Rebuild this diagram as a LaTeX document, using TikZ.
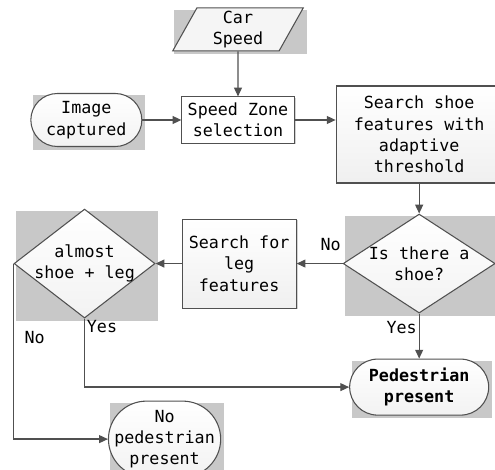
\documentclass[tikz,border=0pt]{standalone}
\usepackage{fontspec}
\setmonofont{DejaVu Sans Mono}
\usetikzlibrary{shapes.geometric, arrows.meta, positioning, shadows, backgrounds, calc}

\definecolor{linegray}{HTML}{505050}
\definecolor{shadegray}{HTML}{C8C8C8}
\newcommand{\chartfont}{\ttfamily\fontsize{9.5}{12.2}\selectfont}

\begin{document}
\begin{tikzpicture}[
    node distance=0.8cm,
    font=\chartfont,
    box/.style={rectangle, draw=linegray, line width=0.6pt, align=center, top color=white, bottom color=gray!12,
        drop shadow={shadow xshift=0.8pt, shadow yshift=-0.8pt, fill=gray!70}},
    term/.style={rectangle, rounded corners=#1, draw=linegray, line width=0.6pt, align=center, top color=white, bottom color=gray!10},
    dec/.style={diamond, draw=linegray, line width=0.6pt, inner sep=0pt, top color=white, bottom color=gray!10},
    io/.style={trapezium, trapezium left angle=65, trapezium right angle=115, trapezium stretches=true,
        draw=linegray, line width=0.6pt, align=center, fill=gray!8},
    flow/.style={-{Triangle[length=5pt,width=4.5pt]}, line width=0.7pt, draw=linegray},
    lbl/.style={inner sep=1pt}
]
    \useasboundingbox (0,0) rectangle (9.9,-9.38);

    \node[box, bottom color=white, minimum width=2.2cm, minimum height=0.88cm] (speedzone) at (4.76,-2.4) {Speed Zone\\selection};
    \node[term=0.53cm, minimum width=2.22cm, minimum height=1.06cm, left=0.78cm of speedzone] (image) {Image\\captured};
    \node[io, inner ysep=0.5pt, minimum width=2.62cm, minimum height=0.86cm, above=0.9cm of speedzone] (carspeed) {Car\\Speed};
    \node[box, minimum width=3.32cm, minimum height=1.94cm, right=0.82cm of speedzone, yshift=-0.29cm] (shoesearch) {Search shoe\\features with\\adaptive\\threshold};
    \node[dec, minimum width=3.04cm, minimum height=1.98cm, below=0.6cm of shoesearch,
        label={[align=center]center:Is there a\\shoe?}] (shoeq) {};
    \node[box, minimum width=2.28cm, minimum height=1.78cm, left=0.92cm of shoeq] (legsearch) {Search for\\leg\\features};
    \node[dec, minimum width=2.82cm, minimum height=2.18cm, left=0.52cm of legsearch,
        label={[align=center]center:almost\\shoe + leg}] (legq) {};
    \node[term=0.56cm, font=\chartfont\bfseries, minimum width=2.78cm, minimum height=1.12cm, below=0.9cm of shoeq] (pedyes) {Pedestrian\\present};
    \node[term=0.76cm, minimum width=2.2cm, minimum height=1.52cm, below=1.64cm of legq, xshift=1.6cm] (pedno) {No\\pedestrian\\present};

    % grey frames behind the shapes
    \begin{scope}[on background layer]
        \fill[shadegray] ($(carspeed.bottom left corner)+(0.05,-0.05)$) rectangle ($(carspeed.top right corner)+(0.05,-0.05)$);
        \foreach \n in {image, shoeq, legq, pedyes, pedno}
            \fill[shadegray] ($(\n.west |- \n.south)+(0.05,-0.05)$) rectangle ($(\n.east |- \n.north)+(0.05,-0.05)$);
    \end{scope}

    \draw[flow] (carspeed) -- (speedzone);
    \draw[flow] (image) -- (speedzone);
    \draw[flow] (speedzone) -- (speedzone -| shoesearch.west);
    \draw[flow] (shoesearch) -- (shoeq);
    \draw[flow] (shoeq) -- node[lbl, pos=0.26, above=6pt] {No} (legsearch);
    \draw[flow] (legsearch) -- (legq);
    \draw[flow] (legq.south) |- node[lbl, pos=0.06, right] {Yes} (pedyes.west);
    \draw[flow] (legq.west) |- node[lbl, pos=0.21, right=5pt] {No} (pedno.west);
    \draw[flow] (shoeq) -- node[lbl, pos=0.3, left] {Yes} (pedyes);
\end{tikzpicture}
\end{document}
